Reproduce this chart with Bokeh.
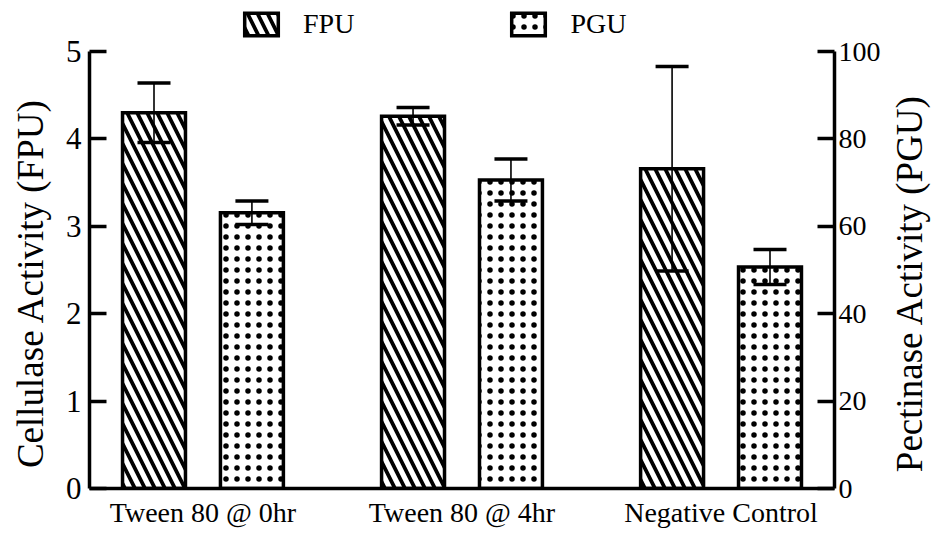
import math
from bokeh.plotting import figure
from bokeh.layouts import row
from bokeh.models import (Range1d, LinearAxis, FixedTicker, ColumnDataSource,
                          Legend, LegendItem)
from bokeh.core.properties import value
from bokeh.transform import dodge
from bokeh.embed import file_html
from bokeh.resources import INLINE

categories = ["Tween 80 @ 0hr", "Tween 80 @ 4hr", "Negative Control"]
fpu = [4.30, 4.26, 3.66]
fpu_err = [0.34, 0.10, 1.17]
pgu = [63.1, 70.6, 50.7]
pgu_err = [2.7, 4.8, 4.0]
left_ticks = [0, 1, 2, 3, 4, 5]
right_ticks = [0, 20, 40, 60, 80, 100]
left_title = "Cellulase Activity (FPU)"
right_title = "Pectinase Activity (PGU)"

FONT = "Liberation Serif"
Y_VIEW = 5.561          # frame extends above the axis end to hold the legend
SCALE = 20              # PGU per FPU unit on the twin axis
H = 532
TOP, BOTTOM = 2, 44

xs = list(range(len(categories)))
src = ColumnDataSource(dict(
    x=xs,
    fpu=fpu,
    fpu_lo=[v - e for v, e in zip(fpu, fpu_err)],
    fpu_hi=[v + e for v, e in zip(fpu, fpu_err)],
    pgu=pgu,
    pgu_lo=[v - e for v, e in zip(pgu, pgu_err)],
    pgu_hi=[v + e for v, e in zip(pgu, pgu_err)],
))

p = figure(width=830, height=H, output_backend="svg", toolbar_location=None,
           x_range=Range1d(-0.438, 2.438), y_range=Range1d(0, Y_VIEW),
           min_border_left=34, min_border_right=51, min_border_top=TOP,
           min_border_bottom=BOTTOM)
p.extra_y_ranges = {"pgu": Range1d(0, Y_VIEW * SCALE)}
p.outline_line_color = None
p.grid.visible = False
p.background_fill_color = "white"
p.border_fill_color = "white"

OFF = 0.189
BW = 0.243

r1 = p.vbar(x=dodge("x", -OFF, range=p.x_range), top="fpu", width=BW, source=src,
            fill_color="white", line_color="black", line_width=3.5,
            line_join="miter", hatch_pattern="\\", hatch_color="black",
            hatch_weight=3.8, hatch_scale=20)
r2 = p.vbar(x=dodge("x", OFF, range=p.x_range), top="pgu", width=BW, source=src,
            y_range_name="pgu",
            fill_color="white", line_color="black", line_width=3.5,
            line_join="miter", hatch_pattern=".", hatch_color="black",
            hatch_weight=1.3, hatch_scale=11)

# error bars
p.segment(x0=dodge("x", -OFF, range=p.x_range), y0="fpu_lo",
          x1=dodge("x", -OFF, range=p.x_range), y1="fpu_hi",
          source=src, line_color="black", line_width=1.6)
for col in ("fpu_lo", "fpu_hi"):
    p.scatter(x=dodge("x", -OFF, range=p.x_range), y=col, source=src,
              marker="dash", size=33, line_width=3.5, line_color="black")
p.segment(x0=dodge("x", OFF, range=p.x_range), y0="pgu_lo",
          x1=dodge("x", OFF, range=p.x_range), y1="pgu_hi",
          source=src, y_range_name="pgu", line_color="black", line_width=1.6)
for col in ("pgu_lo", "pgu_hi"):
    p.scatter(x=dodge("x", OFF, range=p.x_range), y=col, source=src,
              y_range_name="pgu",
              marker="dash", size=33, line_width=3.5, line_color="black")

# x axis
xa = p.xaxis[0]
xa.ticker = FixedTicker(ticks=xs)
xa.major_label_overrides = {i: c for i, c in zip(xs, categories)}
xa.major_tick_in = 0
xa.major_tick_out = 0
xa.minor_tick_line_color = None
xa.axis_line_width = 3.5
xa.major_label_text_font = FONT
xa.major_label_text_font_size = "28px"
xa.major_label_text_color = "black"
xa.major_label_standoff = 8

# left axis
ya = p.yaxis[0]
ya.ticker = FixedTicker(ticks=left_ticks)
ya.bounds = (left_ticks[0], left_ticks[-1])
ya.major_tick_in = 17
ya.major_tick_out = 0
ya.major_tick_line_width = 3.5
ya.minor_tick_line_color = None
ya.axis_line_width = 3.5
ya.major_label_text_font = FONT
ya.major_label_text_font_size = "31px"
ya.major_label_text_color = "black"
ya.major_label_standoff = 8

# right axis
ra = LinearAxis(y_range_name="pgu", ticker=FixedTicker(ticks=right_ticks),
                bounds=(right_ticks[0], right_ticks[-1]))
ra.major_tick_in = 17
ra.major_tick_out = 0
ra.major_tick_line_width = 3.5
ra.minor_tick_line_color = None
ra.axis_line_width = 3.5
ra.major_label_text_font = FONT
ra.major_label_text_font_size = "28px"
ra.major_label_text_color = "black"
ra.major_label_standoff = 4
p.add_layout(ra, "right")

legend = Legend(items=[LegendItem(label="FPU", renderers=[r1]),
                       LegendItem(label="PGU", renderers=[r2])],
                orientation="horizontal", location=(151, 448),
                glyph_width=42, glyph_height=28, label_height=28,
                label_standoff=21, spacing=153, padding=0, margin=0,
                label_text_font=FONT, label_text_font_size="28px",
                label_text_color="black",
                background_fill_alpha=0, border_line_alpha=0)
p.add_layout(legend, "center")

# axis titles, read bottom-to-top, in narrow side panels sharing the y scale
TITLE_Y = 2.35


def title_panel(width, text, tx):
    q = figure(width=width, height=H, output_backend="svg", toolbar_location=None,
               x_range=Range1d(0, width), y_range=p.y_range,
               min_border_left=0, min_border_right=0, min_border_top=TOP,
               min_border_bottom=BOTTOM)
    q.axis.visible = False
    q.grid.visible = False
    q.outline_line_color = None
    q.background_fill_color = "white"
    q.border_fill_color = "white"
    q.text(x=[tx], y=[TITLE_Y], text=[text], angle=math.pi / 2,
           text_align="center", text_baseline="middle",
           text_font=value(FONT), text_font_size="37px", text_color="black")
    return q


qL = title_panel(55, left_title, 30)
qR = title_panel(47, right_title, 24)

layout = row(qL, p, qR, spacing=0)
open("out.html", "w").write(file_html(layout, INLINE))
